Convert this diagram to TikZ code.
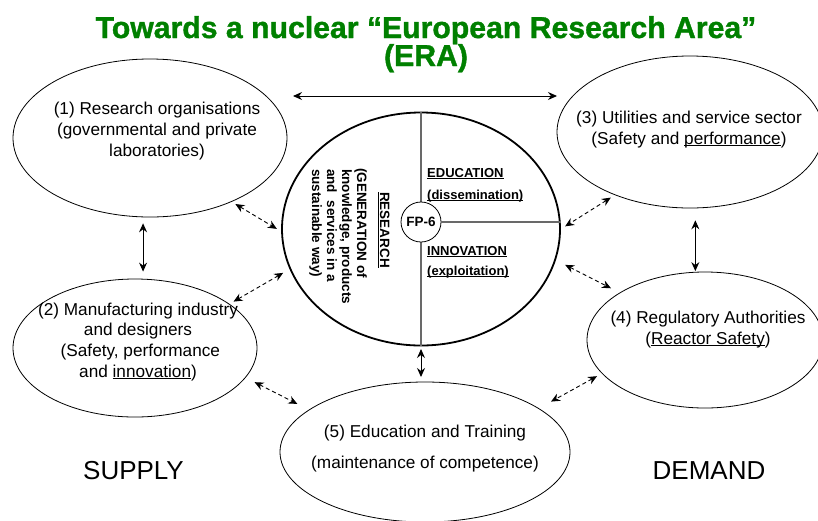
\documentclass[tikz,border=0pt]{standalone}
\usepackage{fontspec}
\setmainfont{Liberation Sans}
\newfontfamily\titlefont{Liberation Sans}[BoldFeatures={FakeBold=1.2}]
\usetikzlibrary{shapes.geometric,arrows.meta}

\definecolor{titlegreen}{RGB}{0,128,0}
\definecolor{divgray}{RGB}{105,105,105}

% underline drawn just below the baseline, ignoring descenders
\newsavebox\ulinebox
\newcommand\ulx[1]{\sbox\ulinebox{#1}\rlap{\rule[-.14em]{\wd\ulinebox}{.075em}}\usebox\ulinebox}

\tikzset{
  actor/.style={draw, ellipse, inner sep=0pt, line width=0.8pt},
  hub/.style={draw, ellipse, inner sep=0pt, line width=1.8pt},
  % multi-line blocks are placed by the baseline of their last line
  bodytxt/.style={inner sep=0pt, align=center, anchor=base, font=\fontsize{17.2}{20.6}\selectfont},
  quadtxt/.style={inner sep=0pt, font=\bfseries\fontsize{13}{14}\selectfont},
  rottxt/.style={inner sep=0pt, rotate=-90, font=\bfseries\fontsize{13.5}{15}\selectfont},
  sidetxt/.style={inner sep=0pt, font=\fontsize{26}{30}\selectfont},
  titletxt/.style={inner sep=0pt, text=titlegreen, font=\titlefont\bfseries\fontsize{30.2}{30}\selectfont},
  divider/.style={draw=divgray, line width=1.2pt},
  slink/.style={{Stealth[length=9pt,width=8pt,inset=3pt]}-{Stealth[length=9pt,width=8pt,inset=3pt]}, line width=1pt},
  dlink/.style={{Stealth[length=9pt,width=8pt,inset=3pt]}-{Stealth[length=9pt,width=8pt,inset=3pt]}, line width=0.9pt, dash pattern=on 4pt off 3pt},
}

\begin{document}
\begin{tikzpicture}[x=1pt,y=-1pt]
\useasboundingbox (0,0) rectangle (818,520);

% title
\node[titletxt, anchor=base] (title1) at (426,38) {Towards a nuclear “European Research Area”};
\node[titletxt, anchor=base] (title2) at (426,66) {(ERA)};

% the five actors
\node[actor, minimum width=274pt, minimum height=158pt] (org)  at (150,138) {};
\node[actor, minimum width=244pt, minimum height=138pt] (manu) at (135,348) {};
\node[actor, minimum width=266pt, minimum height=152pt] (util) at (690,132) {};
\node[actor, minimum width=236pt, minimum height=136pt] (reg)  at (705,340) {};
\node[actor, minimum width=290pt, minimum height=140pt] (edu)  at (425,452) {};

\node[bodytxt] (orgtxt) at (157,156)
  {(1) Research organisations\\(governmental and private\\laboratories)};
\node[bodytxt] (manutxt) at (138,377)
  {(2) Manufacturing industry\\and designers\\\ (Safety, performance\\and \ulx{innovation})};
\node[bodytxt] (utiltxt) at (689,144)
  {(3) Utilities and service sector\\(Safety and \ulx{performance})};
\node[bodytxt] (regtxt) at (708,344)
  {(4) Regulatory Authorities\\(\ulx{Reactor Safety})};
\node[bodytxt, font=\fontsize{17.2}{31}\selectfont] (edutxt) at (425,468)
  {(5) Education and Training\\(maintenance of competence)};

% central programme
\node[hub, minimum width=278pt, minimum height=233pt] (core) at (421,229) {};
\draw[divider] (core.north) -- (core.south);
\node[draw, circle, fill=white, line width=0.8pt, minimum size=40pt, inner sep=0pt,
      font=\bfseries\fontsize{13.5}{14}\selectfont] (fp) at (421,222) {FP-6};
\draw[divider] (fp.east) -- (fp.east -| core.east);

\node[quadtxt, anchor=base west] (educ)    at (427,177) {\ulx{EDUCATION}};
\node[quadtxt, anchor=base west] (dissem)  at (427,199) {\ulx{(dissemination)}};
\node[quadtxt, anchor=base west] (innov)   at (427,255) {\ulx{INNOVATION}};
\node[quadtxt, anchor=base west] (exploit) at (427,275) {\ulx{(exploitation)}};

\node[rottxt, anchor=base] (research) at (380,230) {\ulx{RESEARCH}};
\node[rottxt, anchor=base west] (gen1) at (357,168) {(GENERATION of};
\node[rottxt, anchor=base west] (gen2) at (342,169) {knowledge, products};
\node[rottxt, anchor=base west] (gen3) at (327,169) {and\ \ services in a};
\node[rottxt, anchor=base west] (gen4) at (312,169) {sustainable way)};

% supply and demand sides
\node[sidetxt, anchor=base] (supply) at (133.5,479) {SUPPLY};
\node[sidetxt, anchor=base] (demand) at (709,479) {DEMAND};

% solid links
\coordinate (topL) at (293,96);
\coordinate (topR) at (557,96);
\draw[slink] (topL) -- (topR);
\draw[slink, shorten <=6pt, shorten >=7pt] (org.-95) -- (org.-95 |- manu.north);
\draw[slink, shorten <=12pt, shorten >=0.5pt] (util.-86) -- (util.-86 |- reg.north);
\draw[slink, shorten <=2.6pt, shorten >=4.6pt] (core.south) -- (core.south |- edu.north);

% dashed links
\draw[dlink, shorten <=4.3pt, shorten >=5pt]    (org.-38.9) -- (core.-179);
\draw[dlink, shorten <=4.6pt, shorten >=7.4pt]  (manu.25)  -- (core.-163.5);
\draw[dlink, shorten <=10pt, shorten >=12.8pt]  (manu.-15) -- (edu.160);
\draw[dlink, shorten <=4.7pt, shorten >=5pt]    (util.-140) -- (core.0.4);
\draw[dlink, shorten <=10.4pt, shorten >=9.6pt] (core.-13.3) -- (reg.151);
\draw[dlink, shorten <=5.5pt, shorten >=13.8pt] (reg.-162) -- (edu.21);
\end{tikzpicture}
\end{document}
